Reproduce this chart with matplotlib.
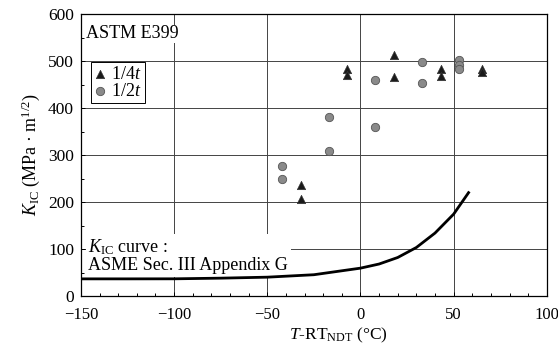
import matplotlib
matplotlib.use("Agg")
import matplotlib.pyplot as plt
from matplotlib.ticker import MultipleLocator

plt.rcParams['font.family'] = ['Liberation Serif', 'DejaVu Serif']
plt.rcParams['mathtext.fontset'] = 'custom'
plt.rcParams['mathtext.rm'] = 'Liberation Serif'
plt.rcParams['mathtext.it'] = 'Liberation Serif:italic'

# 1/4t specimens (triangles)
quarter_t_temp = [-32, -32, -7, -7, 18, 18, 43, 43, 65, 65]
quarter_t_kic = [237, 206, 484, 470, 514, 467, 484, 469, 483, 477]

# 1/2t specimens (circles)
half_t_temp = [-42, -42, -17, -17, 8, 8, 33, 33, 53, 53, 53]
half_t_kic = [276, 250, 381, 308, 459, 359, 498, 454, 502, 491, 484]

# ASME Sec. III Appendix G KIC reference curve
curve_temp = [-150, -125, -100, -75, -50, -25, 0, 10, 20, 30, 40, 50, 58]
curve_kic = [36.5, 36.5, 36.6, 38.0, 40.1, 45.3, 59.3, 68.1, 82.0, 103.3, 134.0, 174.3, 220.0]

fs = 13

fig = plt.figure(figsize=(5.58, 3.44), dpi=100)
ax = fig.add_axes([0.145, 0.1395, 0.835, 0.8195])

ax.set_xlim(-150, 100)
ax.set_ylim(0, 600)
ax.xaxis.set_major_locator(MultipleLocator(50))
ax.xaxis.set_minor_locator(MultipleLocator(10))
ax.yaxis.set_major_locator(MultipleLocator(100))
ax.yaxis.set_minor_locator(MultipleLocator(50))
ax.tick_params(which='both', direction='in', labelsize=12.5, length=3, width=0.7)
ax.tick_params(which='minor', length=2)
ax.tick_params(axis='x', which='major', pad=8, labelsize=12)
ax.tick_params(axis='y', which='major', pad=5)
ax.set_xticks([-150, -100, -50, 0, 50, 100])
ax.set_xticklabels(['\u2212150', '\u2212100', '\u221250', '0', '50', '100'])

ax.grid(True, which='major', color='#444444', linewidth=0.7)
for sp in ax.spines.values():
    sp.set_linewidth(0.9)

ax.plot(curve_temp, curve_kic, color='black', linewidth=2.0, zorder=3)

ax.scatter(quarter_t_temp, quarter_t_kic, marker='^', s=36, color='#1a1a1a',
           edgecolors='#333333', linewidths=0.5, zorder=4, label='1/4$t$')
ax.scatter(half_t_temp, half_t_kic, marker='o', s=36, color='#8a8a8a',
           edgecolors='#555555', linewidths=0.6, zorder=4, label='1/2$t$')

leg = ax.legend(loc='upper left', bbox_to_anchor=(0.022, 0.83), fontsize=fs,
                handlelength=0.6, handletextpad=0.3, borderpad=0.2,
                labelspacing=0.0, fancybox=False, edgecolor='black',
                framealpha=1.0, borderaxespad=0)
leg.get_frame().set_linewidth(0.7)

ax.text(-147.5, 558, 'ASTM E399', fontsize=fs, va='center', ha='left',
        bbox=dict(facecolor='white', edgecolor='none', pad=0.5), zorder=2)
ax.text(-146, 47, '$K_{\\rm IC}$ curve :\nASME Sec. III Appendix G', fontsize=fs,
        va='bottom', ha='left', linespacing=1.0,
        bbox=dict(facecolor='white', edgecolor='none', pad=2), zorder=2)

ax.set_xlabel('$T$-RT$_{\\rm NDT}$ (°C)', fontsize=12.5)
ax.xaxis.set_label_coords(0.552, -0.105)
ax.set_ylabel('$K_{\\rm IC}$ (MPa · m$^{1/2}$)', fontsize=fs, labelpad=4)

fig.savefig('out.png', dpi=100)
